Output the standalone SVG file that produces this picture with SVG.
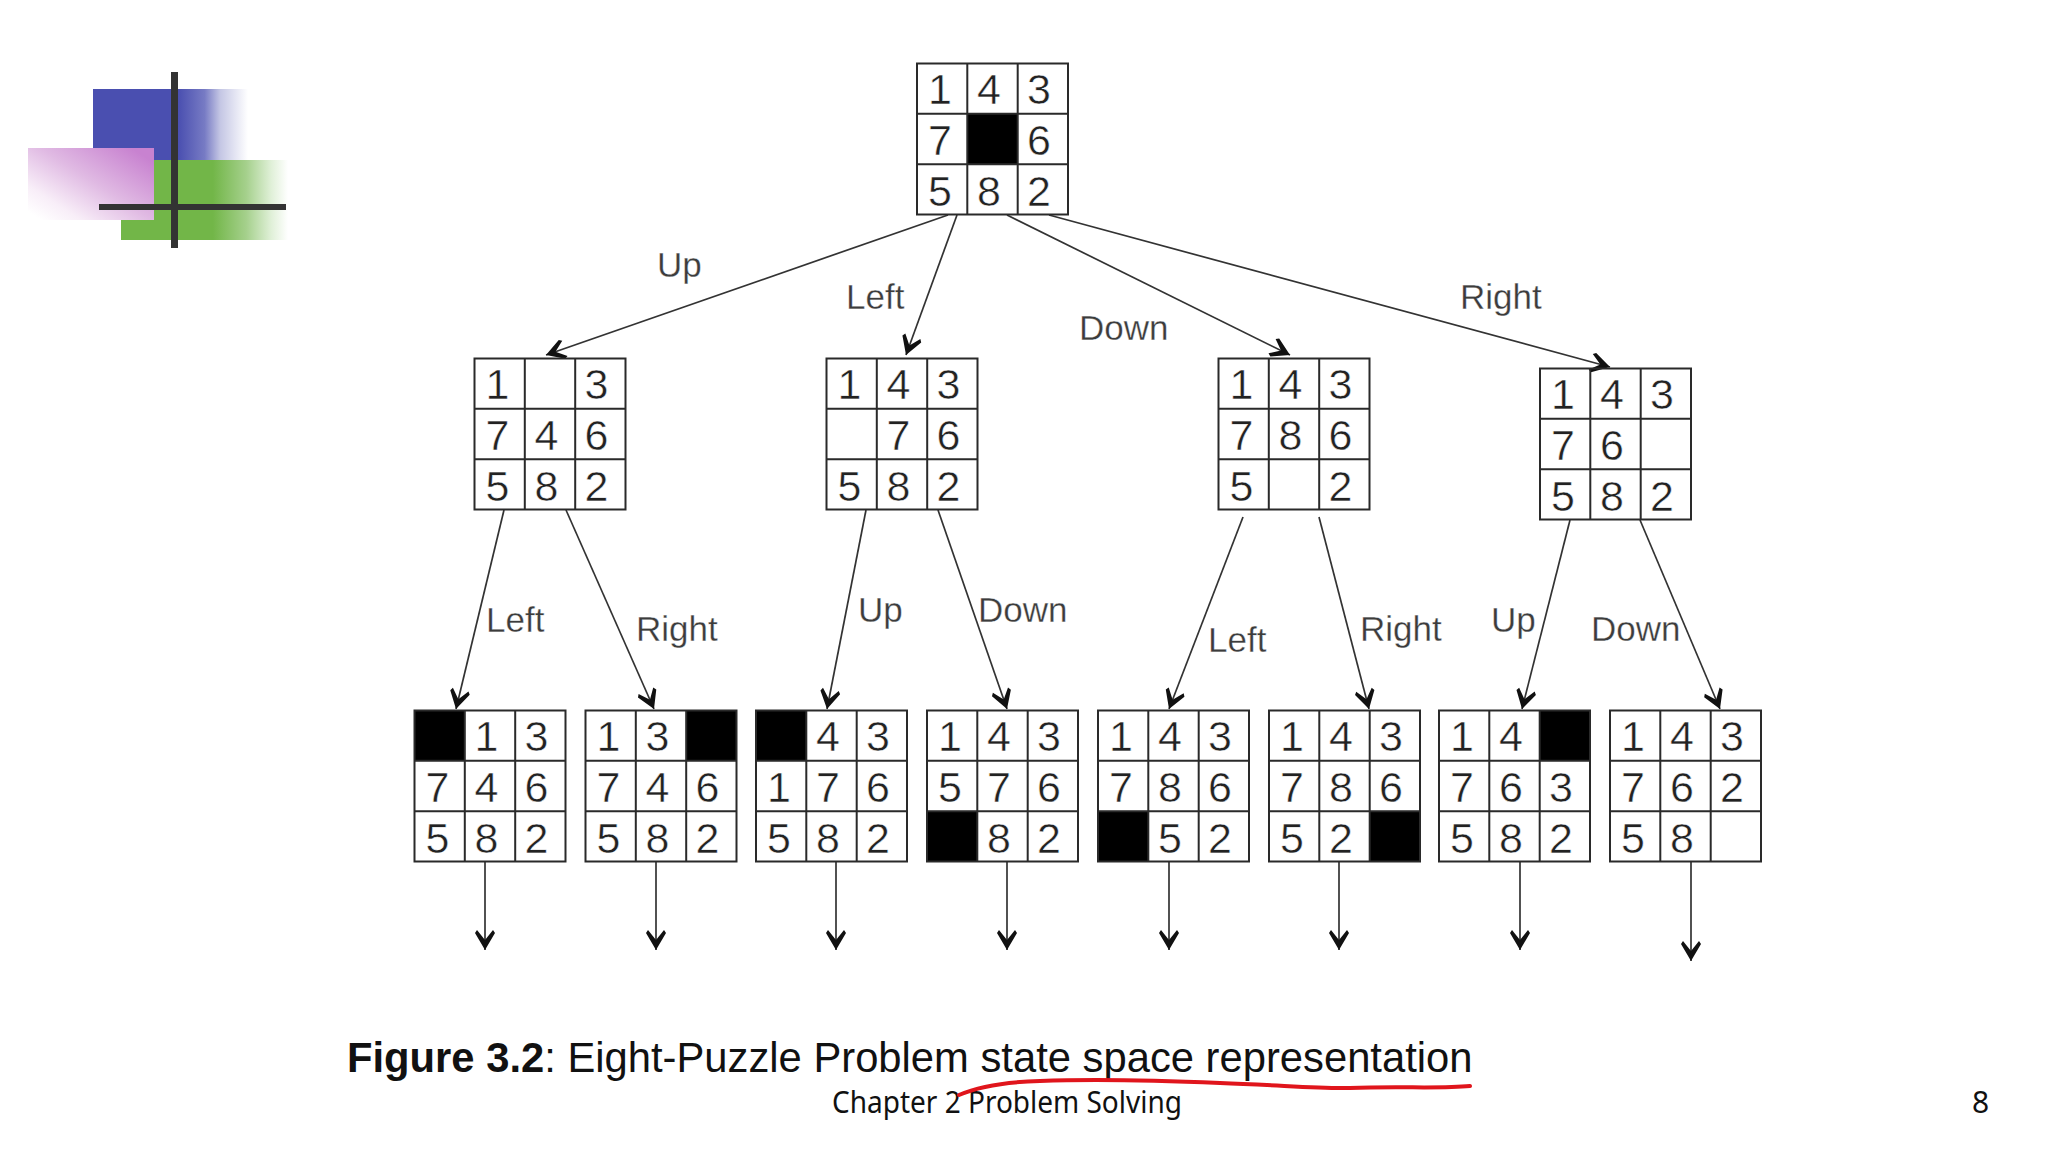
<svg xmlns="http://www.w3.org/2000/svg" width="2048" height="1152" viewBox="0 0 2048 1152">
<style>
.d{font-family:"Liberation Sans",Arial,sans-serif;font-size:43px;fill:#222;text-anchor:middle;stroke:#fff;stroke-width:.5px}
.l{font-family:"Liberation Sans",Arial,sans-serif;font-size:35px;fill:#3c3c3c;stroke:#fff;stroke-width:.3px}
.c line{stroke:#333;stroke-width:1.7;fill:none;marker-end:url(#ah)}
.g{fill:none;stroke:#2a2a2a;stroke-width:2}
</style>
<defs>
<marker id="ah" markerUnits="userSpaceOnUse" markerWidth="24" markerHeight="24" refX="22" refY="12" orient="auto"><path d="M22 12L5 2L2 4L12 12L2 20L5 22Z" fill="#111"/></marker>
<path id="grid" class="g" d="M0 0H151V151H0ZM50.300 0V151M100.700 0V151M0 50.300H151M0 100.700H151"/>
<rect id="b" width="50.500" height="50.500" fill="#000"/>
<linearGradient id="gb"><stop offset=".55" stop-color="#4a4fb0"/><stop offset=".72" stop-color="#777bc4"/><stop offset=".82" stop-color="#c4c6e4"/><stop offset="1" stop-color="#fff"/></linearGradient>
<linearGradient id="gg"><stop offset=".55" stop-color="#72b648"/><stop offset=".75" stop-color="#a5d08c"/><stop offset=".9" stop-color="#e0f0d8"/><stop offset="1" stop-color="#fff"/></linearGradient>
<linearGradient id="gp" x1="1" y1=".2" x2=".1" y2="1"><stop offset="0" stop-color="#c882d0"/><stop offset=".45" stop-color="#e0bae3"/><stop offset=".8" stop-color="#f8eef8"/><stop offset="1" stop-color="#fff"/></linearGradient>
</defs>
<rect width="2048" height="1152" fill="#fff"/>
<g id="logo">
<rect x="93" y="89" width="155" height="71" fill="url(#gb)"/>
<rect x="121" y="160" width="167" height="80" fill="url(#gg)"/>
<rect x="28" y="148" width="126" height="72" fill="url(#gp)"/>
<rect x="171" y="72" width="7" height="176" fill="#333"/>
<rect x="99" y="204" width="187" height="6" fill="#333"/>
</g>
<g id="connectors" class="c">
<line x1="948" y1="215" x2="546" y2="355"/>
<line x1="957" y1="215" x2="906" y2="355"/>
<line x1="1007" y1="215" x2="1290" y2="355"/>
<line x1="1049" y1="215" x2="1610" y2="367"/>
<line x1="504" y1="510" x2="456" y2="709"/>
<line x1="566" y1="510" x2="654" y2="709"/>
<line x1="866" y1="510" x2="827" y2="709"/>
<line x1="938" y1="510" x2="1007" y2="709"/>
<line x1="1243" y1="517" x2="1169" y2="709"/>
<line x1="1319" y1="517" x2="1369" y2="709"/>
<line x1="1570" y1="520" x2="1522" y2="709"/>
<line x1="1640" y1="520" x2="1720" y2="709"/>
<line x1="485" y1="862" x2="485" y2="950"/>
<line x1="656" y1="862" x2="656" y2="950"/>
<line x1="836" y1="862" x2="836" y2="950"/>
<line x1="1007" y1="862" x2="1007" y2="950"/>
<line x1="1169" y1="862" x2="1169" y2="950"/>
<line x1="1339" y1="862" x2="1339" y2="950"/>
<line x1="1520" y1="862" x2="1520" y2="950"/>
<line x1="1691" y1="862" x2="1691" y2="961"/>
</g>
<g id="root" transform="translate(917,63.500)"><use href="#b" x="50.300" y="50.300"/><use href="#grid"/><text class="d" x="23 72 122" y="40">143</text><text class="d" x="23 122" y="91">76</text><text class="d" x="23 72 122" y="142">582</text></g>
<g id="s-up" transform="translate(474.500,358.500)"><use href="#grid"/><text class="d" x="23 122" y="40">13</text><text class="d" x="23 72 122" y="91">746</text><text class="d" x="23 72 122" y="142">582</text></g>
<g id="s-left" transform="translate(826.500,358.500)"><use href="#grid"/><text class="d" x="23 72 122" y="40">143</text><text class="d" x="72 122" y="91">76</text><text class="d" x="23 72 122" y="142">582</text></g>
<g id="s-down" transform="translate(1218.500,358.500)"><use href="#grid"/><text class="d" x="23 72 122" y="40">143</text><text class="d" x="23 72 122" y="91">786</text><text class="d" x="23 122" y="142">52</text></g>
<g id="s-right" transform="translate(1540,368.500)"><use href="#grid"/><text class="d" x="23 72 122" y="40">143</text><text class="d" x="23 72" y="91">76</text><text class="d" x="23 72 122" y="142">582</text></g>
<g id="n1" transform="translate(414.500,710.500)"><use href="#b"/><use href="#grid"/><text class="d" x="72 122" y="40">13</text><text class="d" x="23 72 122" y="91">746</text><text class="d" x="23 72 122" y="142">582</text></g>
<g id="n2" transform="translate(585.500,710.500)"><use href="#b" x="100.700"/><use href="#grid"/><text class="d" x="23 72" y="40">13</text><text class="d" x="23 72 122" y="91">746</text><text class="d" x="23 72 122" y="142">582</text></g>
<g id="n3" transform="translate(756,710.500)"><use href="#b"/><use href="#grid"/><text class="d" x="72 122" y="40">43</text><text class="d" x="23 72 122" y="91">176</text><text class="d" x="23 72 122" y="142">582</text></g>
<g id="n4" transform="translate(927,710.500)"><use href="#b" y="100.700"/><use href="#grid"/><text class="d" x="23 72 122" y="40">143</text><text class="d" x="23 72 122" y="91">576</text><text class="d" x="72 122" y="142">82</text></g>
<g id="n5" transform="translate(1098,710.500)"><use href="#b" y="100.700"/><use href="#grid"/><text class="d" x="23 72 122" y="40">143</text><text class="d" x="23 72 122" y="91">786</text><text class="d" x="72 122" y="142">52</text></g>
<g id="n6" transform="translate(1269,710.500)"><use href="#b" x="100.700" y="100.700"/><use href="#grid"/><text class="d" x="23 72 122" y="40">143</text><text class="d" x="23 72 122" y="91">786</text><text class="d" x="23 72" y="142">52</text></g>
<g id="n7" transform="translate(1439,710.500)"><use href="#b" x="100.700"/><use href="#grid"/><text class="d" x="23 72" y="40">14</text><text class="d" x="23 72 122" y="91">763</text><text class="d" x="23 72 122" y="142">582</text></g>
<g id="n8" transform="translate(1610,710.500)"><use href="#grid"/><text class="d" x="23 72 122" y="40">143</text><text class="d" x="23 72 122" y="91">762</text><text class="d" x="23 72" y="142">58</text></g>
<g id="labels">
<text class="l" x="657" y="277">Up</text><text class="l" x="846" y="309">Left</text><text class="l" x="1079" y="340">Down</text><text class="l" x="1460" y="309">Right</text>
<text class="l" x="486" y="632">Left</text><text class="l" x="636" y="641">Right</text><text class="l" x="858" y="622">Up</text><text class="l" x="978" y="622">Down</text>
<text class="l" x="1208" y="652">Left</text><text class="l" x="1360" y="641">Right</text><text class="l" x="1491" y="632">Up</text><text class="l" x="1591" y="641">Down</text>
</g>
<text x="347" y="1072" font-family="'Liberation Sans',Arial,sans-serif" font-size="41.750" fill="#111"><tspan font-weight="bold">Figure 3.2</tspan>: Eight-Puzzle Problem state space representation</text>
<text x="832" y="1113" font-family="'Noto Sans',sans-serif" font-size="30" fill="#111" textLength="350" lengthAdjust="spacingAndGlyphs">Chapter 2 Problem Solving</text>
<text x="1972" y="1113" font-family="'Noto Sans',sans-serif" font-size="30" fill="#111">8</text>
<path id="underline" d="M959 1095C975 1088 1000 1082 1040 1081C1090 1079 1150 1080 1220 1083C1280 1085 1320 1089 1350 1088C1400 1086 1440 1089 1470 1086" fill="none" stroke="#e0151c" stroke-width="4" stroke-linecap="round"/>
</svg>
